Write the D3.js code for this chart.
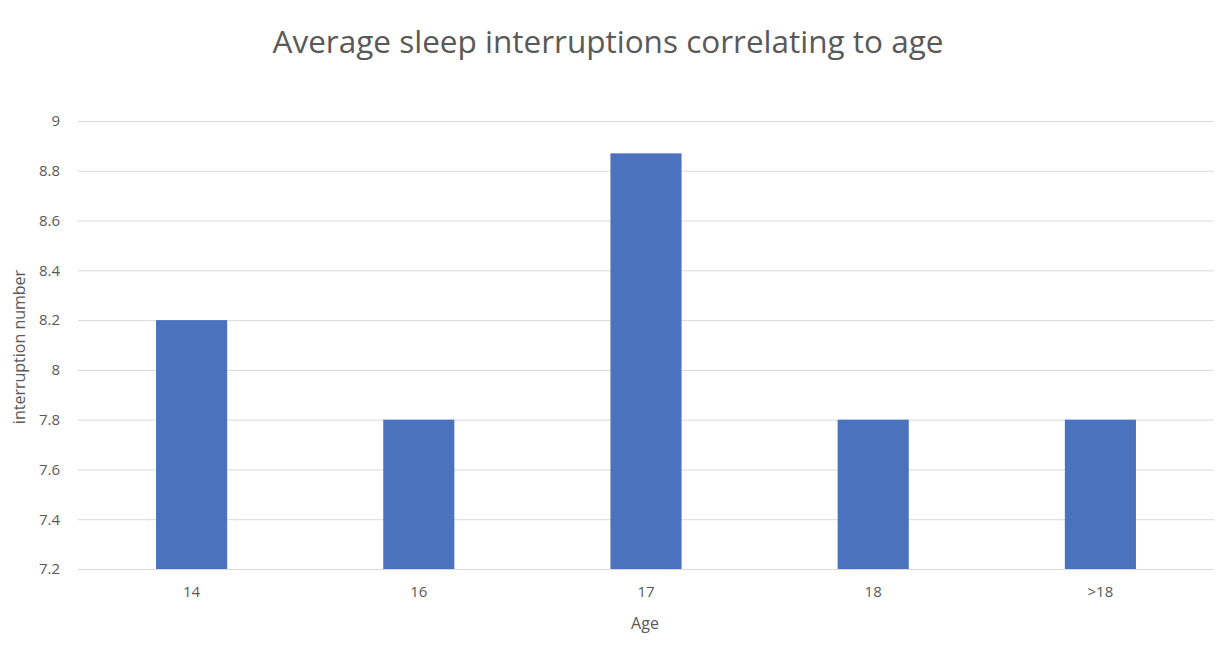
<!DOCTYPE html>
<html><head><meta charset="utf-8">
<script src="https://cdn.jsdelivr.net/npm/d3@7"></script>
<style>body{margin:0;background:#fff}svg{display:block}text{font-family:"Open Sans",sans-serif}</style>
</head><body><svg id="c" width="1224" height="649"></svg>
<script>
(function(){
const categories = ["14","16","17","18",">18"];
const values = [8.2, 7.8, 8.87, 7.8, 7.8];
const yTicks = [7.2,7.4,7.6,7.8,8,8.2,8.4,8.6,8.8,9];
const title = "Average sleep interruptions correlating to age";
const xTitle = "Age";
const yTitle = "interruption number";

const svg = d3.select("#c");
const pl = 78, pr = 1214, pt = 121, pb = 569;
const x = d3.scaleBand().domain(categories).range([pl, pr]).paddingInner(0.687).paddingOuter(0.3435);
const y = d3.scaleLinear().domain([7.2, 9]).range([pb, pt]);

svg.append("text").attr("x", 608).attr("y", 53).attr("text-anchor","middle")
  .attr("font-size", 31.5).attr("fill", "#595959").text(title);

const yAxis = d3.axisLeft(y).tickValues(yTicks).tickSize(-(pr-pl)).tickFormat(d3.format("~g")).tickPadding(18);
const gy = svg.append("g").attr("transform", `translate(${pl},0)`).call(yAxis);
gy.select(".domain").remove();
gy.selectAll(".tick line").attr("stroke", "#d9d9d9").attr("stroke-width", 1);
gy.selectAll(".tick text").attr("fill", "#595959").attr("font-size", 15);

svg.append("g").selectAll("rect").data(categories).join("rect")
  .attr("x", d => x(d)).attr("width", x.bandwidth())
  .attr("y", (d,i) => y(values[i])).attr("height", (d,i) => y(7.2) - y(values[i]))
  .attr("fill", "#4a72bd");

const xAxis = d3.axisBottom(x).tickSize(0).tickPadding(17);
const gx = svg.append("g").attr("transform", `translate(0,${pb})`).call(xAxis);
gx.select(".domain").remove();
gx.selectAll(".tick text").attr("fill", "#595959").attr("font-size", 15);

svg.append("text").attr("x", 645).attr("y", 629).attr("text-anchor","middle")
  .attr("font-size", 16).attr("fill", "#595959").text(xTitle);
svg.append("text").attr("transform", "translate(25,347) rotate(-90)").attr("text-anchor","middle")
  .attr("font-size", 16).attr("fill", "#595959").text(yTitle);
})();
</script></body></html>
